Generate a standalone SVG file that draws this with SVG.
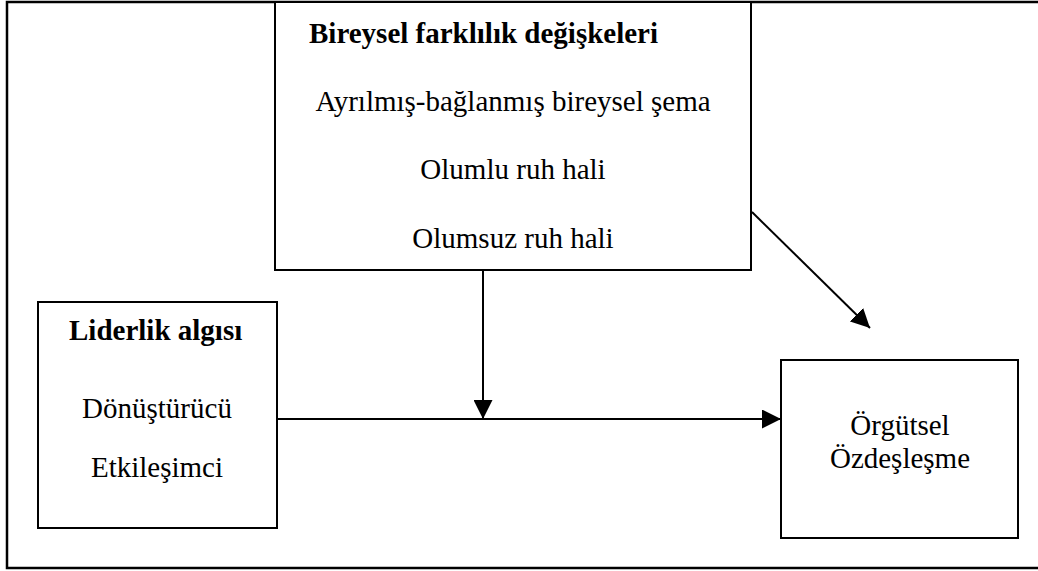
<svg xmlns="http://www.w3.org/2000/svg" width="1038" height="571" viewBox="0 0 1038 571">
<style>
.box{fill:#fff;stroke:#000;stroke-width:2}
.t{font-family:"Times New Roman","Liberation Serif",serif;font-size:29px;font-weight:normal;fill:#000;text-anchor:middle}
.b{font-weight:bold;text-anchor:start}
.c{stroke:#000;stroke-width:2;fill:none}
</style>
<defs>
<marker id="arr" viewBox="0 0 10 10" refX="10" refY="5" markerWidth="19" markerHeight="19" markerUnits="userSpaceOnUse" orient="auto">
<path d="M0,0 L10,5 L0,10 Z" fill="#000"/>
</marker>
</defs>
<rect x="0" y="0" width="1038" height="571" fill="#fff"/>
<g id="frame"><rect x="7" y="2" width="1040" height="566" fill="none" stroke="#000" stroke-width="2.5"/></g>
<g id="connectors">
<line class="c" x1="277" y1="419" x2="781" y2="419" marker-end="url(#arr)"/>
<line class="c" x1="483" y1="270" x2="483" y2="419" marker-end="url(#arr)"/>
<line class="c" x1="752" y1="212" x2="870" y2="328" marker-end="url(#arr)"/>
</g>
<g id="node-bireysel">
<rect class="box" x="275" y="2" width="476" height="268"/>
<text class="t b" x="309" y="43">Bireysel farklılık değişkeleri</text>
<text class="t" x="513" y="111">Ayrılmış-bağlanmış bireysel şema</text>
<text class="t" x="513" y="179">Olumlu ruh hali</text>
<text class="t" x="513" y="248">Olumsuz ruh hali</text>
</g>
<g id="node-liderlik">
<rect class="box" x="38" y="302" width="239" height="226"/>
<text class="t b" x="69" y="340">Liderlik algısı</text>
<text class="t" x="157" y="418">Dönüştürücü</text>
<text class="t" x="157" y="477">Etkileşimci</text>
</g>
<g id="node-orgutsel">
<rect class="box" x="781" y="360" width="237" height="178"/>
<text class="t" x="900" y="435">Örgütsel</text>
<text class="t" x="900" y="468">Özdeşleşme</text>
</g>
</svg>
